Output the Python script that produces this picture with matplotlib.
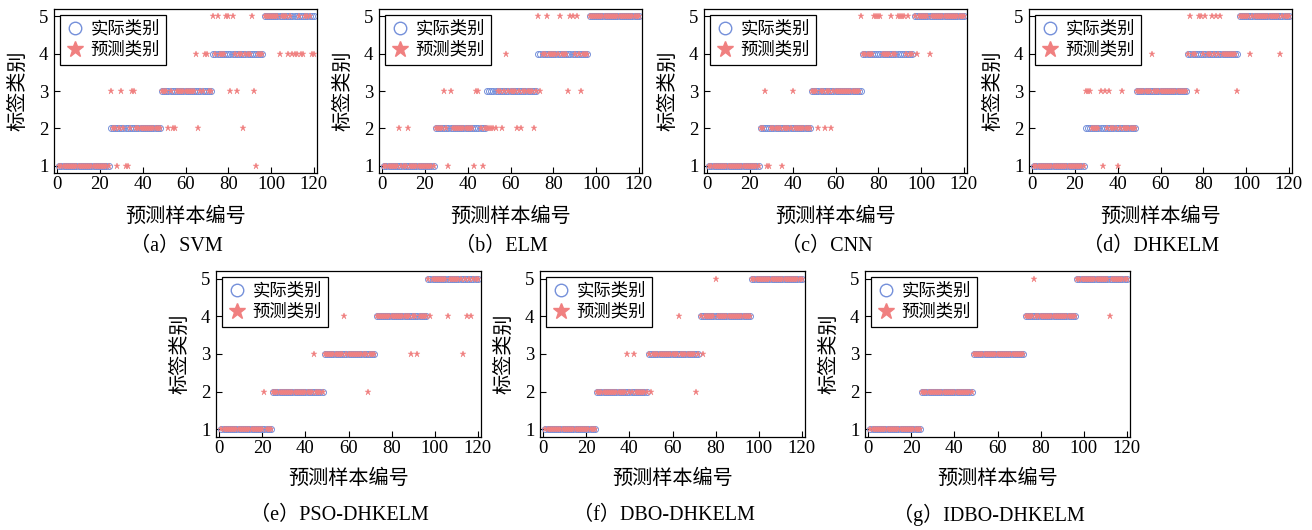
import matplotlib
matplotlib.use("Agg")
import matplotlib.pyplot as plt
from matplotlib.lines import Line2D

plt.rcParams['font.family'] = ['Liberation Serif', 'Noto Sans CJK SC']
plt.rcParams['axes.unicode_minus'] = False

# ---------------- data ----------------
sample_ids = list(range(1, 121))

actual_labels = ("111111111111111111111111"
                 "222222222222222222222222"
                 "333333333333333333333333"
                 "444444444444444444444444"
                 "555555555555555555555555")

pred_svm = ("111111111111111111111111"
            "322123211233222222222222"
            "333232233333333342334433"
            "545444553543442444531444"
            "555555545554544454455544")

pred_elm = ("111111121112111111111111"
            "222232132222222222133212"
            "222223323433332323333323"
            "534454444454443554543444"
            "555555555555555555555555")

pred_cnn = ("111111111111111111111111"
            "223112222212222322222222"
            "333233233233333333333335"
            "444445555444454455554544"
            "545555545555555555555555")

pred_dhkelm = ("111111111111111111111111"
               "333222231323222123222222"
               "333333343333333333333333"
               "454435545445454544444443"
               "555554555555555555545555")

pred_pso = ("111111111111111111112111"
            "222222222222222222232222"
            "333333333433333333332333"
            "444444444444444434434444"
            "545555555455555535454555")

pred_dbo = ("111111111111111111111111"
            "222222222222223223222222"
            "323333333333334333333323"
            "434444454444444444444444"
            "555555555555555555555555")

pred_idbo = ("111111111111111111111111"
             "222222222222222222222222"
             "333333333333333333333333"
             "444454444444444444444444"
             "555555555555555455555555")

panel_titles = ["（a）SVM", "（b）ELM", "（c）CNN", "（d）DHKELM",
                "（e）PSO-DHKELM", "（f）DBO-DHKELM", "（g）IDBO-DHKELM"]
panel_preds = [pred_svm, pred_elm, pred_cnn, pred_dhkelm,
               pred_pso, pred_dbo, pred_idbo]

x_ticks = [0, 20, 40, 60, 80, 100, 120]
y_ticks = [1, 2, 3, 4, 5]
legend_labels = ["实际类别", "预测类别"]
x_label = "预测样本编号"
y_label = "标签类别"

# ---------------- style ----------------
W, H = 1312, 530
circle_color = "#7590DA"
star_color = "#F08080"

# panel boxes in pixels: (left, top, width, height, xlabel_offset, caption_offset)
boxes = [(54, 9, 263, 164, 44, 73), (379, 9, 263, 164, 44, 73),
         (704, 9, 263, 164, 44, 73), (1029, 9, 263, 164, 44, 73),
         (216, 271, 265, 166, 42, 78), (540, 271, 265, 166, 42, 78),
         (865, 271, 265, 166, 42, 78)]

fig = plt.figure(figsize=(W / 100, H / 100), dpi=100)

for title, pred, (l, t, w, h, xo, co) in zip(panel_titles, panel_preds, boxes):
    ax = fig.add_axes([l / W, (H - t - h) / H, w / W, h / H])
    act = [int(c) for c in actual_labels]
    prd = [int(c) for c in pred]
    ax.plot(sample_ids, act, linestyle='none', marker='o', ms=4.3,
            mfc='none', mec=circle_color, mew=0.7, zorder=2)
    ax.plot(sample_ids, prd, linestyle='none', marker='*', ms=4.8,
            color=star_color, mec=star_color, mew=0.3, zorder=3)
    ax.set_xlim(-1.5, 121.5)
    ax.set_ylim(0.8, 5.2)
    ax.set_xticks(x_ticks)
    ax.set_yticks(y_ticks)
    ax.tick_params(direction='in', length=4, width=0.8, labelsize=13.5,
                   top=False, right=False, pad=2)
    ax.tick_params(axis='y', pad=4)
    for sp in ax.spines.values():
        sp.set_linewidth(0.9)
        sp.set_color('black')
    ax.set_xlabel(x_label, fontsize=14.5)
    ax.xaxis.label.set_va('center')
    ax.xaxis.set_label_coords(0.5, -xo / h)
    ax.set_ylabel(y_label, fontsize=14.5)
    ax.yaxis.label.set_va('center')
    ax.yaxis.set_label_coords(-35 / w, 0.5)
    handles = [Line2D([], [], linestyle='none', marker='o', ms=9, mfc='none',
                      mec=circle_color, mew=1.0),
               Line2D([], [], linestyle='none', marker='*', ms=12,
                      color=star_color, mec=star_color)]
    leg = ax.legend(handles, legend_labels, loc='upper left', fontsize=12.5,
                    frameon=True, fancybox=False, edgecolor='black',
                    handlelength=1.0, handletextpad=0.4, borderpad=0.35,
                    labelspacing=0.25, borderaxespad=0.35, framealpha=1)
    leg.get_frame().set_linewidth(0.9)
    cx = (l + w / 2 - 9) / W
    cy = (H - (t + h + co)) / H
    fig.text(cx, cy, title, ha='center', va='center', fontsize=14.5)

fig.savefig("out.png", dpi=100)
